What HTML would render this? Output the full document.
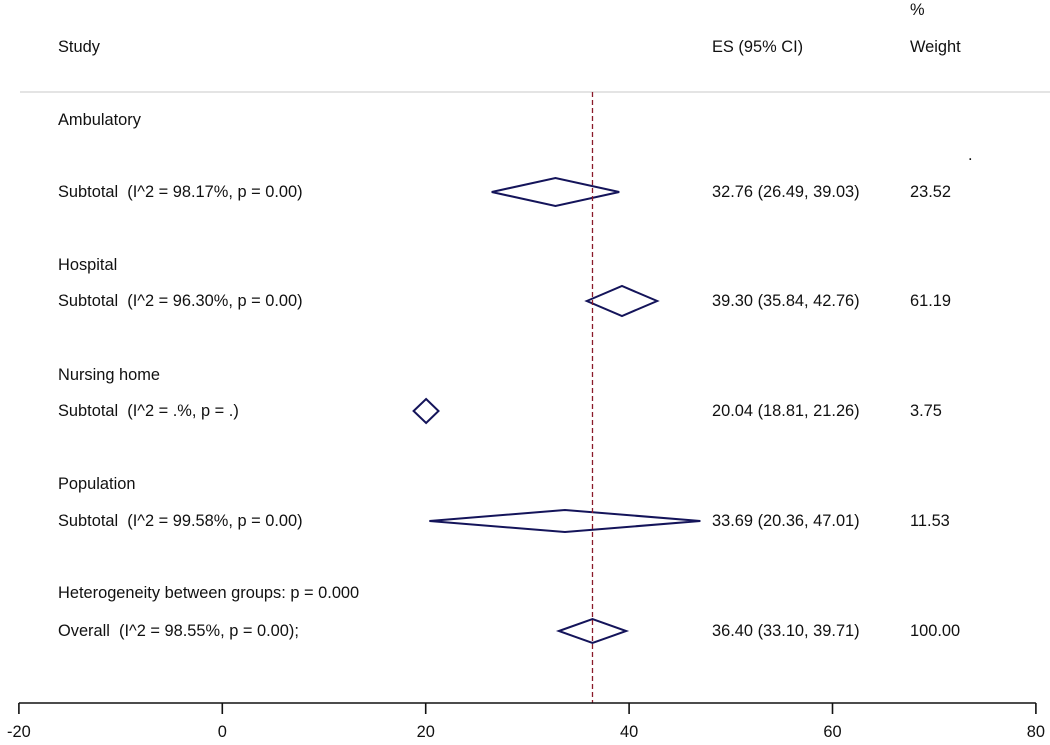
<!DOCTYPE html>
<html><head><meta charset="utf-8"><style>
body{margin:0;background:#fff;}
svg text{font-family:"Liberation Sans",Arial,sans-serif;font-size:16.4px;fill:#111;white-space:pre;}
</style></head><body>
<svg width="1050" height="740" xmlns="http://www.w3.org/2000/svg" id="chart"></svg>
<script>
const labels=["Ambulatory","Hospital","Nursing home","Population"];
const subtotalText=["Subtotal  (I^2 = 98.17%, p = 0.00)","Subtotal  (I^2 = 96.30%, p = 0.00)","Subtotal  (I^2 = .%, p = .)","Subtotal  (I^2 = 99.58%, p = 0.00)"];
const es=[32.76,39.30,20.04,33.69];
const lo=[26.49,35.84,18.81,20.36];
const hi=[39.03,42.76,21.26,47.01];
const weights=["23.52","61.19","3.75","11.53"];
const halfH=[14,15,12,11];
const overall=[36.40,33.10,39.71];
const ticks=[-20,0,20,40,60,80];
const NS="http://www.w3.org/2000/svg";
const svg=document.getElementById('chart');
const xs=v=>222.3+v*10.17;
const AXY=703;
function mk(tag,attrs,parent){const e=document.createElementNS(NS,tag);for(const k in attrs)e.setAttribute(k,attrs[k]);(parent||svg).appendChild(e);return e;}
function txt(x,y,s,name){const t=mk('text',{x:x,y:y});t.textContent=s;


return t;}
function fmt(v){return v.toFixed(2);}
txt(910,15,"%","weight-percent-header");
txt(58,52,"Study","study-header");
txt(712,52,"ES (95% CI)","es-header");
txt(910,52,"Weight","weight-header");
let hl=mk('line',{x1:20,x2:1050,y1:92,y2:92,stroke:'#c8c8c8','stroke-width':1});


const groupY=[120,265,375,484];
const subY=[192,301,411,521];
txt(968,160,".","ambulatory-dot");
for(let i=0;i<labels.length;i++){
 txt(58,groupY[i]+5,labels[i],'group-label');
 txt(58,subY[i]+5,subtotalText[i],'subtotal-label');
 txt(712,subY[i]+5,fmt(es[i])+" ("+fmt(lo[i])+", "+fmt(hi[i])+")",'subtotal-es');
 txt(910,subY[i]+5,weights[i],'subtotal-weight');
 const y=subY[i],h=halfH[i];
 const d=mk('polygon',{points:`${xs(lo[i])},${y} ${xs(es[i])},${y-h} ${xs(hi[i])},${y} ${xs(es[i])},${y+h}`,fill:'none',stroke:'#14145a','stroke-width':2});
 
 
}
txt(58,598,"Heterogeneity between groups: p = 0.000","heterogeneity-label");
txt(58,636,"Overall  (I^2 = 98.55%, p = 0.00);","overall-label");
txt(712,636,fmt(overall[0])+" ("+fmt(overall[1])+", "+fmt(overall[2])+")","overall-es");
txt(910,636,"100.00","overall-weight");
const oy=631,oh=12;
const od=mk('polygon',{points:`${xs(overall[1])},${oy} ${xs(overall[0])},${oy-oh} ${xs(overall[2])},${oy} ${xs(overall[0])},${oy+oh}`,fill:'none',stroke:'#14145a','stroke-width':2});


const ref=mk('line',{x1:xs(overall[0]),x2:xs(overall[0]),y1:92,y2:AXY,stroke:'#8b1a2a','stroke-width':1.3,'stroke-dasharray':'5,3'});


const ax=mk('line',{x1:xs(-20),x2:xs(80),y1:AXY,y2:AXY,stroke:'#111','stroke-width':1.6});


for(const t of ticks){
 const tl=mk('line',{x1:xs(t),x2:xs(t),y1:AXY,y2:AXY+11,stroke:'#111','stroke-width':1.6});
 
 
 const lb=txt(xs(t),737,String(t),'x-tick-label');
 lb.setAttribute('text-anchor','middle');
}
</script>
</body></html>
